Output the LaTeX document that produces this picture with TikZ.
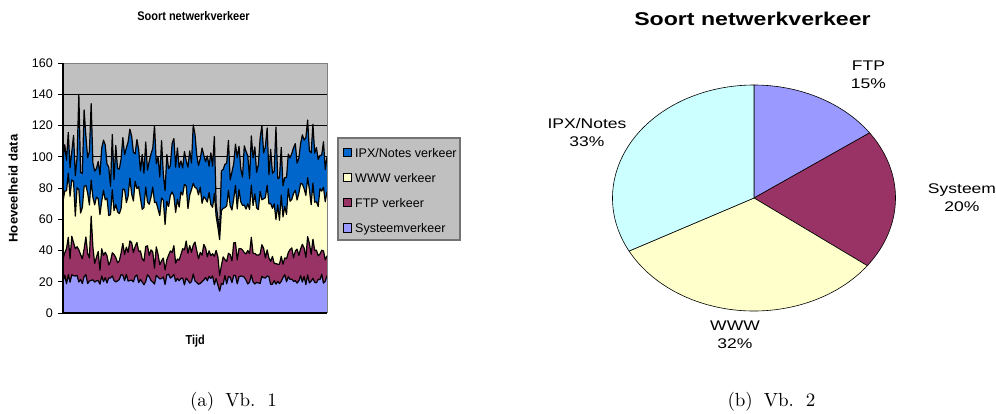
\documentclass[tikz,border=0pt]{standalone}
\usepackage{fontspec}
\newfontfamily\arial{Liberation Sans}
\newfontfamily\capfont{lmroman10-regular}[Extension=.otf]
\definecolor{plotbg}{HTML}{C0C0C0}
\definecolor{ipxblue}{HTML}{0066CC}
\definecolor{wwwyellow}{HTML}{FFFFCC}
\definecolor{ftpplum}{HTML}{993366}
\definecolor{syslav}{HTML}{9999FF}
\definecolor{ipxcyan}{HTML}{CCFFFF}
\definecolor{frame}{HTML}{808080}
\newcommand\pieword[1]{\scalebox{1.25}[1]{#1}}

\begin{document}
\begin{tikzpicture}[x=1pt,y=-1pt,
  axisnum/.style={font=\arial\fontsize{12.5}{14}\selectfont,anchor=east,inner sep=0pt},
  legtext/.style={font=\arial\fontsize{12.5}{14}\selectfont,anchor=base west,inner sep=0pt},
  legkey/.style={draw=black,line width=0.8pt,minimum size=8.5pt,inner sep=0pt},
  boldlabel/.style={font=\arial\bfseries\fontsize{12.5}{14}\selectfont,inner sep=0pt},
  pielabel/.style={font=\arial\fontsize{14}{18}\selectfont,align=center,inner sep=0pt},
  subcap/.style={font=\capfont\fontsize{19}{21}\selectfont,anchor=base,inner sep=0pt},
  slice/.style={draw=black,line width=0.6pt},
  pierad/.style={x radius=141.5pt,y radius=113pt},
  series/.style={draw=black,line width=1.2pt,line join=round}]
\useasboundingbox (0,0) rectangle (996,413);

% ---------- stacked area chart ----------
\fill[plotbg] (63,63) rectangle (327,313);
\foreach \g in {1,...,7}{\draw[black,line width=0.8pt] (63,313-31.25*\g) -- (327,313-31.25*\g);}

% random traffic series (stacked)
\pgfmathsetseed{2718}
\gdef\Ls{}\gdef\Lf{}\gdef\Lw{}\gdef\Lp{}
\foreach \i in {0,...,150}{%
  \pgfmathsetmacro\xx{63+\i*1.76}%
  \pgfmathsetmacro\vs{18+7*rnd}%
  \pgfmathsetmacro\vf{\vs+12+10*rnd+4*sin(\i*11)}%
  \pgfmathsetmacro\vw{\vf+28+14*rnd}%
  \pgfmathsetmacro\vp{\vw+16+22*rnd}%
  \ifnum\i=7 \def\vw{62}\def\vp{88}\fi
  \ifnum\i=9 \def\vp{140}\fi
  \ifnum\i=10 \def\vw{64}\def\vp{90}\fi
  \ifnum\i=12 \def\vp{130}\fi
  \ifnum\i=16 \def\vf{62}\def\vw{85}\def\vp{134}\fi
  \ifnum\i=52 \def\vp{120}\fi
  \ifnum\i=87 \def\vw{62}\def\vp{70}\fi
  \ifnum\i=88 \def\vs{18}\def\vf{36}\def\vw{55}\def\vp{60}\fi
  \ifnum\i=89 \def\vs{14}\def\vf{24}\def\vw{47}\def\vp{52}\fi
  \ifnum\i=113 \def\vp{120}\fi
  \ifnum\i=121 \def\vp{119}\fi
  \pgfmathsetmacro\ys{313-1.5625*\vs}%
  \pgfmathsetmacro\yf{313-1.5625*\vf}%
  \pgfmathsetmacro\yw{313-1.5625*\vw}%
  \pgfmathsetmacro\yp{313-1.5625*\vp}%
  \xdef\Ls{\Ls -- (\xx,\ys)}%
  \xdef\Lf{\Lf -- (\xx,\yf)}%
  \xdef\Lw{\Lw -- (\xx,\yw)}%
  \xdef\Lp{\Lp -- (\xx,\yp)}%
}
\fill[ipxblue]   (63,313) \Lp -- (327,313) -- cycle;
\fill[wwwyellow] (63,313) \Lw -- (327,313) -- cycle;
\fill[ftpplum]   (63,313) \Lf -- (327,313) -- cycle;
\fill[syslav]    (63,313) \Ls -- (327,313) -- cycle;
\draw[series] (63,313) \Lp;
\draw[series] (63,313) \Lw;
\draw[series] (63,313) \Lf;
\draw[series] (63,313) \Ls;

% frame and axes
\draw[frame,line width=1pt] (63,63) -- (327,63) -- (327,313);
\draw[black,line width=1.3pt] (63,63) -- (63,313) -- (327,313);
\foreach \v [count=\k from 0] in {0,20,...,160}{
  \draw[black,line width=0.8pt] (58,313-31.25*\k) -- (63,313-31.25*\k);
  \node[axisnum] (ylab\k) at (53,313-31.25*\k) {\v};
}

\node[boldlabel,anchor=base] (ltitle) at (193.5,20.7) {\scalebox{0.88}[1]{Soort netwerkverkeer}};
\node[boldlabel,anchor=base,rotate=90] (ylabel) at (17.5,188.5) {\scalebox{1.05}[1]{Hoeveelheid data}};
\node[boldlabel,anchor=base] (xlabel) at (195.3,344.3) {\scalebox{0.84}[1]{\fontsize{13}{14}\selectfont Tijd}};

% legend
\draw[black!55,fill=plotbg,line width=1.4pt] (338,138) rectangle (460,240);
\node[legkey,fill=ipxblue]   (kipx) at (347.5,152.5) {};
\node[legkey,fill=wwwyellow] (kwww) at (347.5,177.5) {};
\node[legkey,fill=ftpplum]   (kftp) at (347.5,202.5) {};
\node[legkey,fill=syslav]    (ksys) at (347.5,228)   {};
\node[legtext] (tipx) at (355,157.3) {IPX/Notes verkeer};
\node[legtext] (twww) at (355,182.3) {WWW verkeer};
\node[legtext] (tftp) at (355,207.3) {FTP verkeer};
\node[legtext] (tsys) at (355,232.7) {Systeemverkeer};

\node[subcap] (capa) at (233.5,406.2) {(a)\hspace{11pt}Vb.\hspace{12pt}1};

% ---------- pie chart ----------
\coordinate (pc) at (754,198);
\filldraw[slice,fill=syslav]    (pc) -- ++(90:141.5pt and 113pt) arc[pierad,start angle=90,end angle=35.2] -- cycle;
\filldraw[slice,fill=ftpplum]   (pc) -- ++(35.2:141.5pt and 113pt) arc[pierad,start angle=35.2,end angle=-36.8] -- cycle;
\filldraw[slice,fill=wwwyellow] (pc) -- ++(-36.8:141.5pt and 113pt) arc[pierad,start angle=-36.8,end angle=-152] -- cycle;
\filldraw[slice,fill=ipxcyan]   (pc) -- ++(-152:141.5pt and 113pt) arc[pierad,start angle=-152,end angle=-270] -- cycle;

\node[anchor=base,inner sep=0pt,font=\arial\bfseries\fontsize{18.5}{20}\selectfont] (rtitle) at (752.5,25) {\pieword{Soort netwerkverkeer}};
\node[pielabel] (lftp) at (868.5,75)  {\pieword{FTP}\\\pieword{15\%}};
\node[pielabel] (lsys) at (962,198)   {\pieword{Systeem}\\\pieword{20\%}};
\node[pielabel] (lwww) at (735,335)   {\pieword{WWW}\\\pieword{32\%}};
\node[pielabel] (lipx) at (587,132)   {\pieword{IPX/Notes}\\\pieword{33\%}};

\node[subcap] (capb) at (771.5,406.2) {(b)\hspace{11pt}Vb.\hspace{12pt}2};
\end{tikzpicture}
\end{document}
